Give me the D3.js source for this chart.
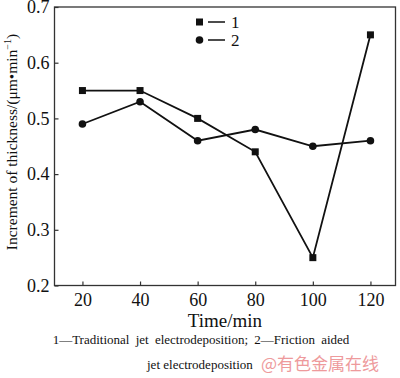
<!DOCTYPE html>
<html>
<head>
<meta charset="utf-8">
<script src="https://cdn.jsdelivr.net/npm/d3@7"></script>
<style>
  body { margin: 0; background: #fff; }
  svg text { font-family: "Liberation Serif", "DejaVu Serif", serif; fill: #111; }
</style>
</head>
<body>
<svg id="chart" width="400" height="378"></svg>
<script>
const times = [20, 40, 60, 80, 100, 120];
const traditional = [0.55, 0.55, 0.50, 0.44, 0.25, 0.65];
const frictionAided = [0.49, 0.53, 0.46, 0.48, 0.45, 0.46];
const xTicks = [20, 40, 60, 80, 100, 120];
const yTicks = [0.2, 0.3, 0.4, 0.5, 0.6, 0.7];

const serif = "'Liberation Serif', 'DejaVu Serif', serif";
const svg = d3.select("#chart");
const plot = { left: 54.5, right: 395.5, top: 7, bottom: 285.5 };

const x = d3.scaleLinear().domain([10.3, 128.7]).range([plot.left, plot.right]);
const y = d3.scaleLinear().domain([0.2, 0.7]).range([plot.bottom, plot.top]);

// frame
svg.append("rect")
  .attr("x", plot.left).attr("y", plot.top)
  .attr("width", plot.right - plot.left).attr("height", plot.bottom - plot.top)
  .attr("fill", "none").attr("stroke", "#333").attr("stroke-width", 1.3);

const xAxis = svg.append("g")
  .attr("transform", `translate(0,${plot.bottom})`)
  .call(d3.axisBottom(x).tickValues(xTicks).tickSizeInner(-4).tickSizeOuter(0).tickPadding(8));
const yAxis = svg.append("g")
  .attr("transform", `translate(${plot.left},0)`)
  .call(d3.axisLeft(y).tickValues(yTicks).tickFormat(d3.format(".1f")).tickSizeInner(-4).tickSizeOuter(0).tickPadding(5));

[xAxis, yAxis].forEach(g => {
  g.attr("font-family", null);
  g.select(".domain").remove();
  g.selectAll(".tick line").attr("stroke", "#333").attr("stroke-width", 1.2);
  g.selectAll(".tick text").attr("font-size", 18).style("font-family", serif).attr("fill", "#111");
});

const line = d3.line().x((d, i) => x(times[i])).y(d => y(d));

svg.append("path").datum(traditional)
  .attr("fill", "none").attr("stroke", "#111").attr("stroke-width", 1.8).attr("d", line);
svg.append("path").datum(frictionAided)
  .attr("fill", "none").attr("stroke", "#111").attr("stroke-width", 1.8).attr("d", line);

svg.selectAll(".sq").data(traditional).enter().append("rect")
  .attr("x", (d, i) => x(times[i]) - 3.5).attr("y", d => y(d) - 3.5)
  .attr("width", 7).attr("height", 7).attr("fill", "#111");
svg.selectAll(".dot").data(frictionAided).enter().append("circle")
  .attr("cx", (d, i) => x(times[i])).attr("cy", d => y(d))
  .attr("r", 3.8).attr("fill", "#111");

// legend
const legend = svg.append("g");
legend.append("rect").attr("x", 196).attr("y", 18.5).attr("width", 7).attr("height", 7).attr("fill", "#111");
legend.append("line").attr("x1", 208).attr("x2", 225).attr("y1", 22).attr("y2", 22).attr("stroke", "#111").attr("stroke-width", 1.5);
legend.append("text").attr("x", 231).attr("y", 28).attr("font-size", 17).style("font-family", serif).text("1");
legend.append("circle").attr("cx", 199.5).attr("cy", 40).attr("r", 3.8).attr("fill", "#111");
legend.append("line").attr("x1", 208).attr("x2", 225).attr("y1", 40).attr("y2", 40).attr("stroke", "#111").attr("stroke-width", 1.5);
legend.append("text").attr("x", 231).attr("y", 46).attr("font-size", 17).style("font-family", serif).text("2");

// axis titles
svg.append("text")
  .attr("x", (plot.left + plot.right) / 2).attr("y", 327)
  .attr("text-anchor", "middle").attr("font-size", 19).style("font-family", serif).text("Time/min");

const yTitle = svg.append("text")
  .attr("transform", `translate(17,142) rotate(-90)`)
  .attr("text-anchor", "middle").attr("font-size", 15.5).style("font-family", serif);
yTitle.append("tspan").text("Increment of thickness/(μm•min");
yTitle.append("tspan").attr("font-size", 10).attr("dy", -6).text("−1");
yTitle.append("tspan").attr("dy", 6).text(")");

// caption
svg.append("text")
  .attr("x", 201).attr("y", 344).attr("text-anchor", "middle")
  .attr("font-size", 13).attr("word-spacing", 3).style("font-family", serif)
  .text("1—Traditional jet electrodeposition; 2—Friction aided");
svg.append("text")
  .attr("x", 147).attr("y", 369).attr("font-size", 13).style("font-family", serif)
  .text("jet electrodeposition");
svg.append("text")
  .attr("x", 261).attr("y", 370)
  .attr("font-size", 17)
  .style("font-family", "'Noto Sans CJK SC', sans-serif")
  .style("fill", "#ee9a9c")
  .text("@有色金属在线");
</script>
</body>
</html>
